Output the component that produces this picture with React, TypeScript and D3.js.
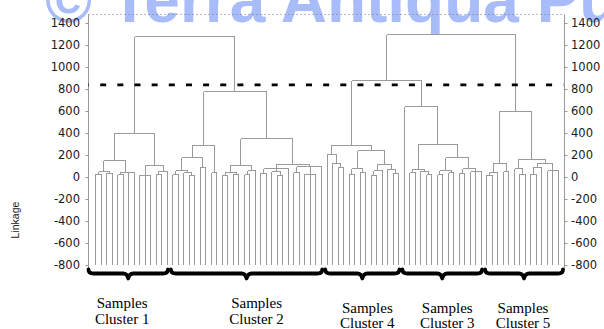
import React from 'react';
import * as d3 from 'd3';

// one sample (a leaf of the dendrogram)
const o = 'o';

// merge trees, every node is [linkage, ...children]
const cluster1 = [400,
  [150, [50, [30, o, o], [35, o, o]], [45, [25, o, o], [40, o, o]]],
  [110, [20, o, o, o], [55, [30, o, o], o]]];

const cluster2 = [780,
  [290, [180, [60, [25, o, o], [40, o, [20, o, o]]], [90, o, o]], [40, o, o]],
  [350,
    [110, [45, [20, o, o], [30, o, o]], [60, [25, o, o], o]],
    [120, [80, [35, o, o], [50, o, [20, o, o]], o], [95, [40, o, o], [30, o, o, o], o]]]];

const cluster4 = [290,
  [210, o, [130, o, [90, o, o]]],
  [240, [80, [30, o, o], [45, o, o]], [120, [60, [20, o, o], o], [75, o, [35, o, o]]]]];

const cluster3 = [640, o,
  [300, [75, [40, o, o], [55, o, [25, o, o]]],
    [180, [60, [25, o, o], [40, o, o]], [80, [35, o, o], [50, o, o, o]]]]];

const cluster5 = [600,
  [130, [45, [20, o, o], o], [50, o, o]],
  [165, [80, o, [30, o, o]], [130, [90, [30, o, o], o], [60, o, o, o]]]];

// joins above the clusters: (1+2), (4+3), (4+3)+5
const upperLinkage = [1280, 880, 1295];
const clusterTrees = [cluster1, cluster2, cluster4, cluster3, cluster5];
const clusterNames = ['Cluster 1', 'Cluster 2', 'Cluster 4', 'Cluster 3', 'Cluster 5'];
const yTicks = [-800, -600, -400, -200, 0, 200, 400, 600, 800, 1000, 1200, 1400];
const cutLevel = 840;
const watermark = '\u00A9 Terra Antiqua Publishing';

// label placement under each brace
const labelLayout = [
  { dx: -6, y: 308 }, { dx: 10, y: 308 }, { dx: 5, y: 312.5 }, { dx: 5, y: 312.5 }, { dx: -1, y: 312.5 },
];

const W = 604, H = 329;
const axisL = 88.5, axisR = 564.5, top = 14.5, bottom = 268;

export default function App() {
  const forest = [1500,
    [upperLinkage[0], cluster1, cluster2],
    [upperLinkage[2], [upperLinkage[1], cluster4, cluster3], cluster5]];

  const root = d3.hierarchy<any>(forest, d => (Array.isArray(d) ? d.slice(1) : null));
  const leaves = root.leaves();

  const x = d3.scalePoint<number>().domain(d3.range(leaves.length)).range([95, 558]);
  const y = d3.scaleLinear().domain([-800, 1400]).range([265.3, 23.3]);

  leaves.forEach((n: any, i) => { n.x = x(i); });
  root.eachAfter((n: any) => {
    if (n.children) n.x = (n.children[0].x + n.children[n.children.length - 1].x) / 2;
  });
  const h = (n: any) => (n.children ? n.data[0] : -800);
  const px = (v: number) => Math.round(v) + 0.5;

  const links: string[] = [];
  root.each((n: any) => {
    if (!n.children || n.depth === 0) return;
    const first = n.children[0], last = n.children[n.children.length - 1];
    links.push(`M${px(first.x)},${y(h(n))}H${px(last.x)}`);
    n.children.forEach((c: any) => links.push(`M${px(c.x)},${y(h(n))}V${y(h(c))}`));
  });

  // leaf extent of each cluster, braces split halfway between clusters
  const spans = clusterTrees.map(t => {
    const node: any = root.descendants().find(n => n.data === t);
    const lv = node.leaves();
    return [lv[0].x, lv[lv.length - 1].x];
  });
  const braces = spans.map((s, i) => {
    const a = i === 0 ? axisL : (spans[i - 1][1] + s[0]) / 2 + 1.5;
    const b = i === spans.length - 1 ? axisR - 1.5 : (s[1] + spans[i + 1][0]) / 2 - 1.5;
    return [a, b];
  });
  const braceY = 273.5;
  const bracePath = ([a, b]: number[]) => {
    const c = (a + b) / 2, yb = braceY;
    return `M${a},${yb - 4}Q${a},${yb} ${a + 5},${yb}L${c - 5},${yb}Q${c - 1},${yb} ${c},${yb + 5}` +
      `Q${c + 1},${yb} ${c + 5},${yb}L${b - 5},${yb}Q${b},${yb} ${b},${yb - 4}`;
  };

  const tickFont = { fontFamily: 'DejaVu Sans, sans-serif', fontSize: 11.5, fill: '#1a1a1a' };

  return (
    <div style={{ position: 'absolute', left: 0, top: 0 }}>
      <svg width={W} height={H} style={{ display: 'block', background: '#fff' }}>
        <text x={45} y={22} fontFamily="Liberation Sans, Arial, sans-serif" fontWeight="bold"
          fontSize={64} fill="#a9bcfa">{watermark}</text>

        <line x1={axisL} x2={axisR} y1={top} y2={top} stroke="#777" strokeDasharray="1,3" />
        <line x1={axisL} x2={axisL} y1={top} y2={bottom} stroke="#999" />
        <line x1={axisR} x2={axisR} y1={top} y2={bottom} stroke="#999" />

        {yTicks.map(t => (
          <g key={t}>
            <line x1={axisL - 3} x2={axisL} y1={px(y(t))} y2={px(y(t))} stroke="#999" />
            <line x1={axisR} x2={axisR + 3} y1={px(y(t))} y2={px(y(t))} stroke="#999" />
            <text x={80} y={y(t)} textAnchor="end" dominantBaseline="central" {...tickFont}>{t}</text>
            <text x={571} y={y(t)} textAnchor="start" dominantBaseline="central" {...tickFont}>{t}</text>
          </g>
        ))}

        <text transform="translate(15,220) rotate(-90)" textAnchor="middle" dominantBaseline="central"
          fontFamily="Liberation Sans, Arial, sans-serif" fontSize={10.5} fill="#222">Linkage</text>

        <path d={links.join('')} stroke="#9a9a9a" strokeWidth={1} fill="none" shapeRendering="crispEdges" />

        <line x1={axisL} x2={axisR - 1} y1={y(cutLevel)} y2={y(cutLevel)} stroke="#000"
          strokeWidth={2.6} strokeDasharray="6,11.15" strokeDashoffset={5.45} />

        {braces.map((b, i) => (
          <path key={i} d={bracePath(b)} stroke="#000" strokeWidth={3.8} fill="none"
            strokeLinecap="round" strokeLinejoin="round" />
        ))}

        {braces.map((b, i) => {
          const cx = (b[0] + b[1]) / 2 + labelLayout[i].dx;
          return (
            <text key={i} textAnchor="middle" fontFamily="Liberation Serif, Times New Roman, serif"
              fontSize={15} fill="#000">
              <tspan x={cx} y={labelLayout[i].y}>Samples</tspan>
              <tspan x={cx} y={labelLayout[i].y + 15.5}>{clusterNames[i]}</tspan>
            </text>
          );
        })}
      </svg>
    </div>
  );
}
